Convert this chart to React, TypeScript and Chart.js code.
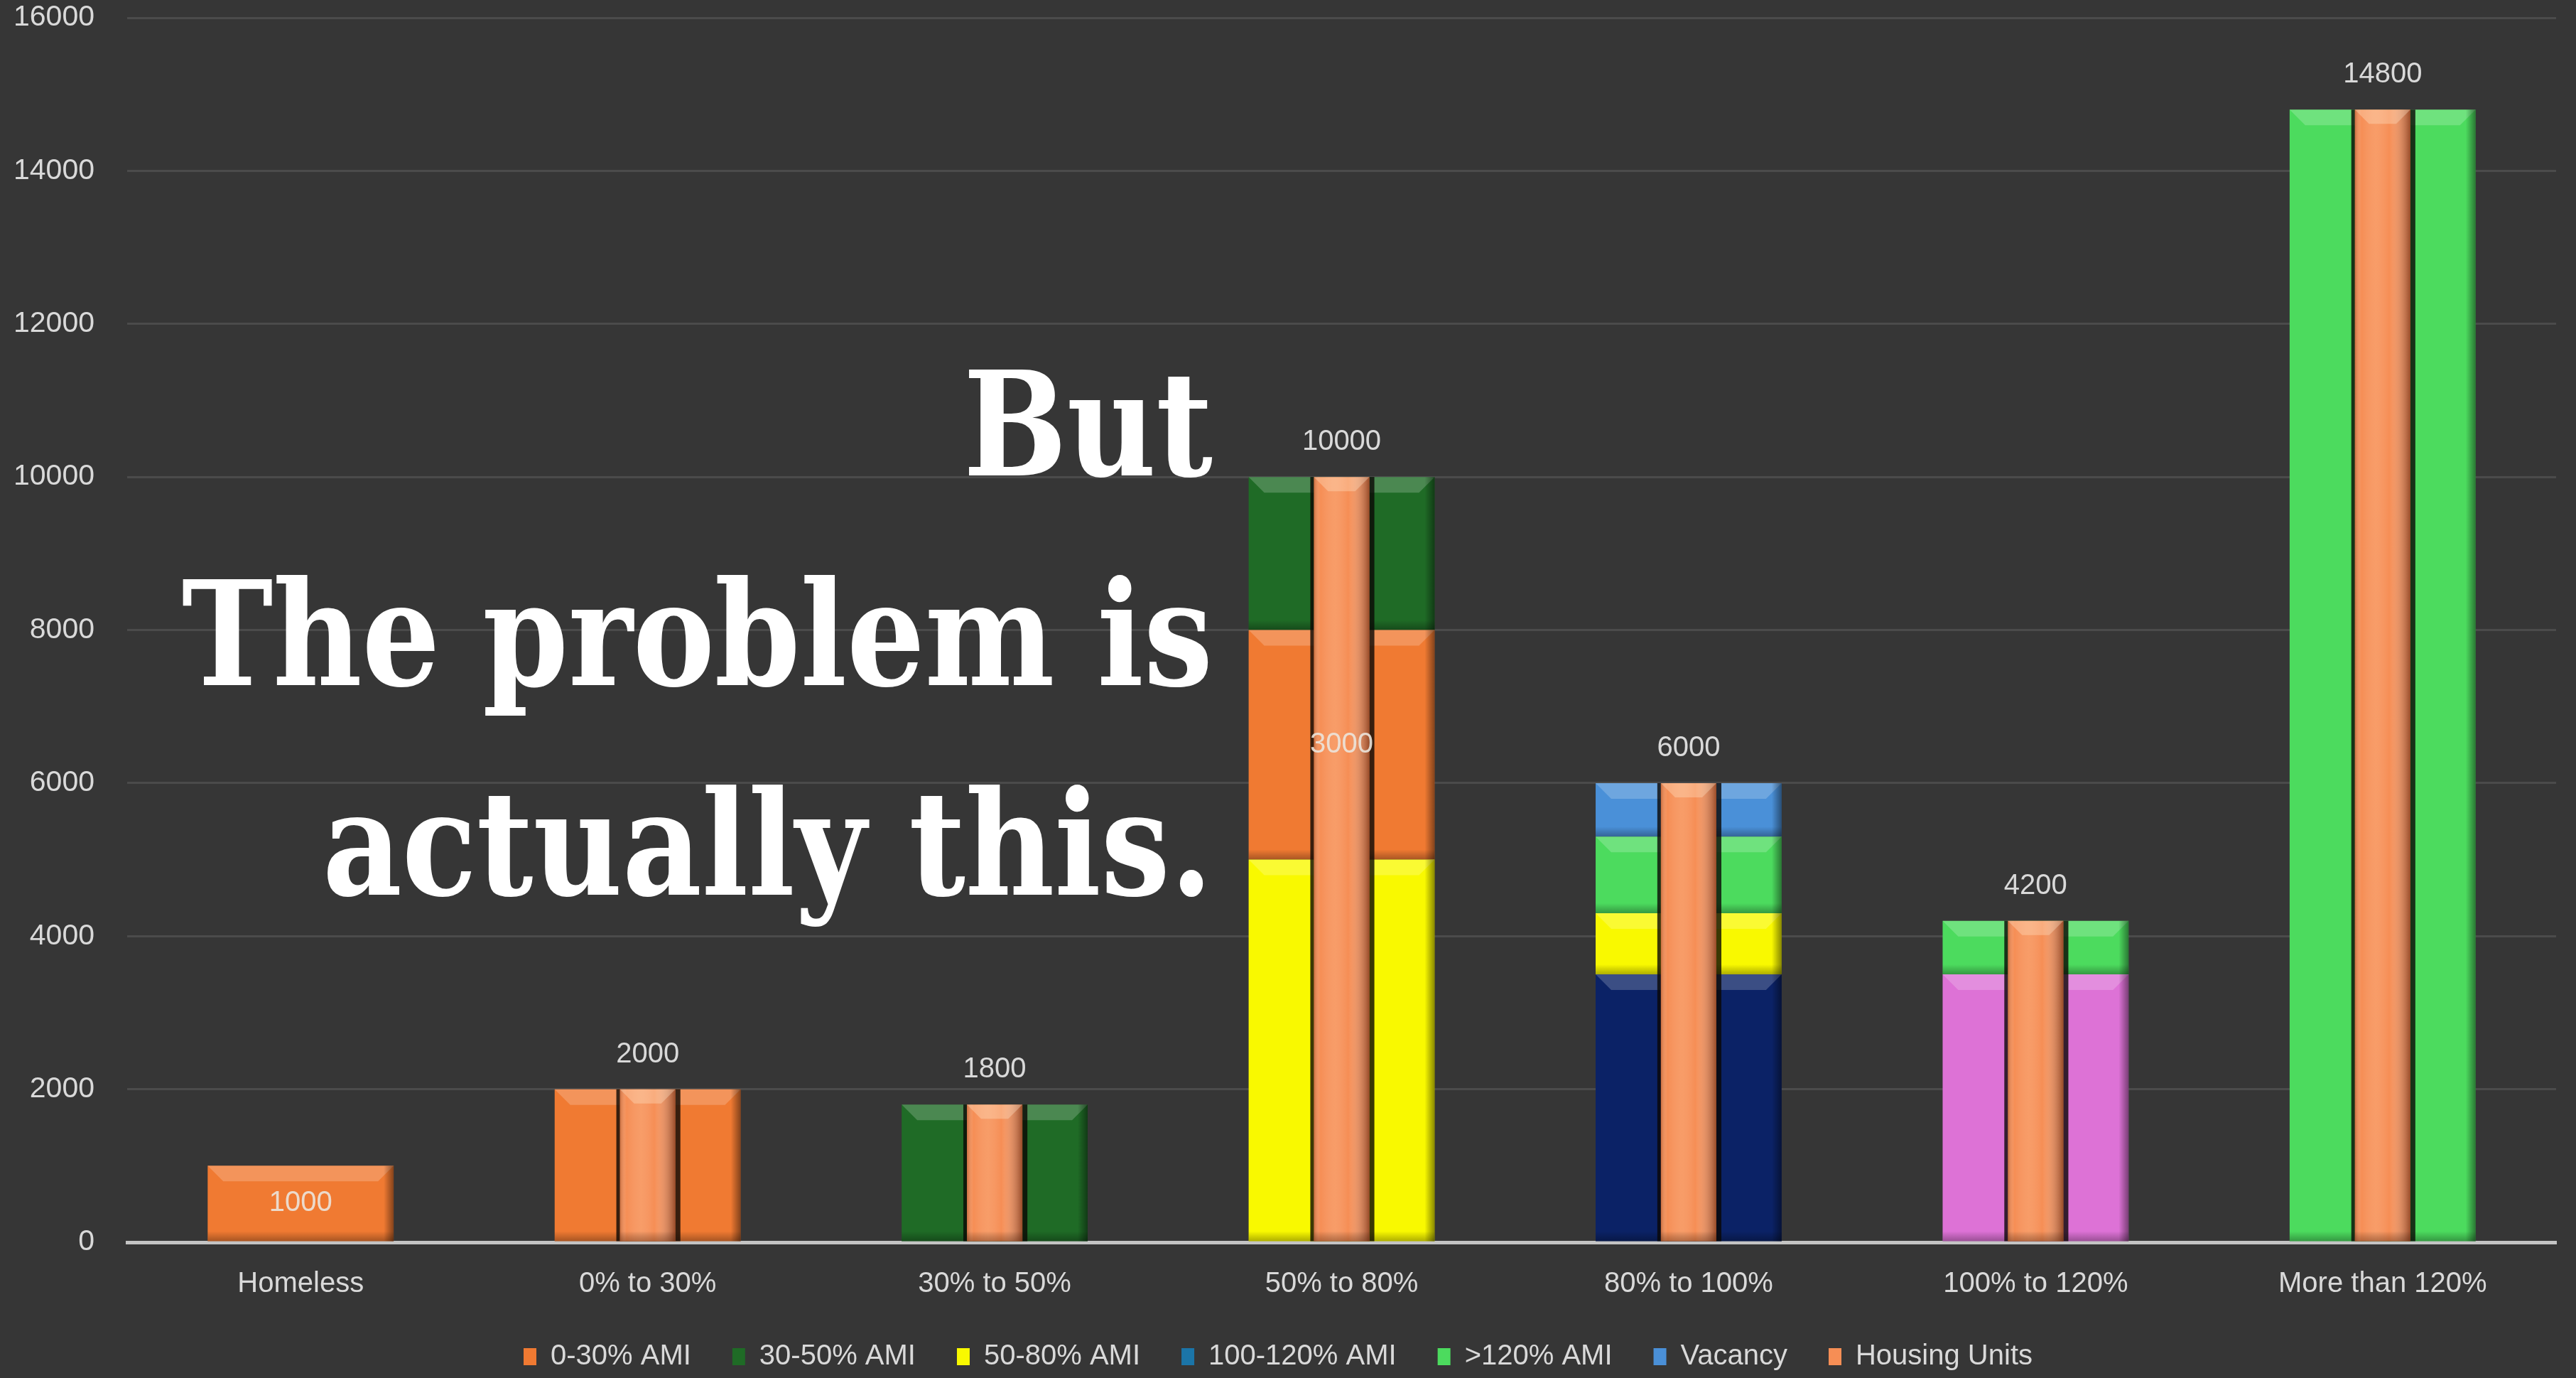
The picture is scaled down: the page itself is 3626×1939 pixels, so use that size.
import React, { useEffect, useRef } from 'react';
import { Chart, registerables } from 'chart.js';

Chart.register(...registerables);

// ---------- data ----------
const categories = ['Homeless', '0% to 30%', '30% to 50%', '50% to 80%', '80% to 100%', '100% to 120%', 'More than 120%'];
const ami0to30 = [1000, 2000, 0, 3000, 0, 0, 0];
const ami30to50 = [0, 0, 1800, 2000, 0, 0, 0];
const ami50to80 = [0, 0, 0, 5000, 800, 0, 0];
const ami100to120 = [0, 0, 0, 0, 3500, 3500, 0];
const ami120plus = [0, 0, 0, 0, 1000, 700, 14800];
const vacancy = [0, 0, 0, 0, 700, 0, 0];
const housingUnits = [0, 2000, 1800, 10000, 6000, 4200, 14800];
const ami0to30ShowLabel = [true, false, false, true, false, false, false];
const legendOrder = ['0-30% AMI', '30-50% AMI', '50-80% AMI', '100-120% AMI', '>120% AMI', 'Vacancy', 'Housing Units'];
const yMin = 0;
const yMax = 16000;
const yStep = 2000;

// ---------- styles ----------
const BG = '#363636';
const TEXT = '#D9D9D9';
const FONT = "'Liberation Sans', Arial, sans-serif";
const cOrange = '#F07A32';
const cDkGreen = '#1F6B26';
const cYellow = '#F9F900';
const cTeal = '#1B75A8';
const cNavy = '#0B2266';
const cPink = '#DD72D6';
const cGreen = '#4CDB5E';
const cVacancy = '#4A90D8';
const cHousing = '#F68E55';
const ami100Colors = categories.map((c) => (c === '80% to 100%' ? cNavy : c === '100% to 120%' ? cPink : cTeal));

const bevelPlugin = {
  id: 'bevel',
  beforeDatasetDraw(chart: any, args: any) {
    const ds = chart.data.datasets[args.index];
    if (ds.label !== 'Housing Units') return;
    const ctx = chart.ctx;
    ctx.save();
    args.meta.data.forEach((el: any) => {
      const { x, y, base, width } = el.getProps(['x', 'y', 'base', 'width'], true);
      const h = base - y;
      if (h < 1) return;
      ctx.fillStyle = 'rgba(10,8,5,0.8)';
      ctx.fillRect(x - width / 2 - 5, y, width + 12, h);
    });
    ctx.restore();
  },
  afterDatasetDraw(chart: any, args: any) {
    const ds = chart.data.datasets[args.index];
    const ctx = chart.ctx;
    const isHousing = ds.label === 'Housing Units';
    ctx.save();
    args.meta.data.forEach((el: any) => {
      const { x, y, base, width } = el.getProps(['x', 'y', 'base', 'width'], true);
      const h = base - y;
      if (h < 1) return;
      const left = x - width / 2;
      const right = x + width / 2;
      if (isHousing) {
        const gh = ctx.createLinearGradient(left, 0, right, 0);
        gh.addColorStop(0, 'rgba(120,50,20,0.35)');
        gh.addColorStop(0.12, 'rgba(255,255,255,0)');
        gh.addColorStop(0.38, 'rgba(255,215,180,0.2)');
        gh.addColorStop(0.62, 'rgba(255,255,255,0)');
        gh.addColorStop(1, 'rgba(90,30,10,0.6)');
        ctx.fillStyle = gh;
        ctx.fillRect(left, y, width, h);
        const b = Math.min(20, h / 2);
        ctx.fillStyle = 'rgba(255,230,200,0.35)';
        ctx.beginPath();
        ctx.moveTo(left, y);
        ctx.lineTo(right, y);
        ctx.lineTo(right - b, y + b);
        ctx.lineTo(left + b, y + b);
        ctx.closePath();
        ctx.fill();
        const gb = ctx.createLinearGradient(0, base - 14, 0, base);
        gb.addColorStop(0, 'rgba(0,0,0,0)');
        gb.addColorStop(1, 'rgba(60,20,0,0.35)');
        ctx.fillStyle = gb;
        ctx.fillRect(left, base - 14, width, 14);
      } else {
        const b = Math.min(22, h / 2);
        ctx.fillStyle = 'rgba(255,255,255,0.2)';
        ctx.beginPath();
        ctx.moveTo(left, y);
        ctx.lineTo(right, y);
        ctx.lineTo(right - b, y + b);
        ctx.lineTo(left + b, y + b);
        ctx.closePath();
        ctx.fill();
        const gb = ctx.createLinearGradient(0, base - 14, 0, base);
        gb.addColorStop(0, 'rgba(0,0,0,0)');
        gb.addColorStop(1, 'rgba(0,0,0,0.3)');
        ctx.fillStyle = gb;
        ctx.fillRect(left, base - 14, width, 14);
        const gr = ctx.createLinearGradient(right - 14, 0, right, 0);
        gr.addColorStop(0, 'rgba(0,0,0,0)');
        gr.addColorStop(1, 'rgba(0,0,0,0.45)');
        ctx.fillStyle = gr;
        ctx.fillRect(right - 14, y, 14, h);
      }
    });
    ctx.restore();
  },
};

const labelPlugin = {
  id: 'valueLabels',
  afterDatasetsDraw(chart: any) {
    const ctx = chart.ctx;
    ctx.save();
    ctx.font = `40px ${FONT}`;
    ctx.textAlign = 'center';
    ctx.textBaseline = 'middle';
    chart.data.datasets.forEach((ds: any, di: number) => {
      const meta = chart.getDatasetMeta(di);
      meta.data.forEach((el: any, i: number) => {
        const { x, y, base } = el.getProps(['x', 'y', 'base'], true);
        const v = ds.data[i];
        if (!v) return;
        if (ds.label === 'Housing Units') {
          ctx.fillStyle = TEXT;
          ctx.fillText(String(v), x, y - 49);
        } else if (ds.label === '0-30% AMI' && ami0to30ShowLabel[i]) {
          ctx.fillStyle = 'rgba(235,228,220,0.9)';
          ctx.fillText(String(v), x, (y + base) / 2);
        }
      });
    });
    ctx.restore();
  },
};

export default function App() {
  const canvasRef = useRef<HTMLCanvasElement | null>(null);

  useEffect(() => {
    if (!canvasRef.current) return;
    const outer = { grouped: false, categoryPercentage: 1, barPercentage: 0.536, stack: 'ami', borderWidth: 0 };
    const chart = new Chart(canvasRef.current, {
      type: 'bar',
      data: {
        labels: categories,
        datasets: [
          { label: '100-120% AMI', data: ami100to120, backgroundColor: ami100Colors, ...outer },
          { label: '50-80% AMI', data: ami50to80, backgroundColor: cYellow, ...outer },
          { label: '0-30% AMI', data: ami0to30, backgroundColor: cOrange, ...outer },
          { label: '30-50% AMI', data: ami30to50, backgroundColor: cDkGreen, ...outer },
          { label: '>120% AMI', data: ami120plus, backgroundColor: cGreen, ...outer },
          { label: 'Vacancy', data: vacancy, backgroundColor: cVacancy, ...outer },
          {
            label: 'Housing Units',
            data: housingUnits,
            backgroundColor: cHousing,
            grouped: false,
            categoryPercentage: 1,
            barPercentage: 0.16,
            stack: 'hu',
            order: -1,
            borderWidth: 0,
          },
        ] as any,
      },
      options: {
        animation: false,
        responsive: true,
        maintainAspectRatio: false,
        layout: { padding: { left: 0, right: 28, top: 25, bottom: 0 } },
        scales: {
          x: {
            stacked: true,
            grid: { display: false, drawTicks: false },
            border: { display: true, color: '#C4C4C4', width: 5 },
            ticks: { color: TEXT, font: { family: FONT, size: 40 }, padding: 35, maxRotation: 0, autoSkip: false },
            afterFit: (s: any) => { s.height = 83; s.paddingLeft = 0; s.paddingRight = 0; },
          },
          y: {
            stacked: true,
            min: yMin,
            max: yMax,
            ticks: {
              stepSize: yStep,
              color: TEXT,
              font: { family: FONT, size: 41 },
              padding: 46,
              callback: (v: any) => String(v),
            },
            grid: { color: '#4B4B4B', lineWidth: 3, drawTicks: false },
            border: { display: false },
            afterFit: (s: any) => { s.width = 179; s.paddingTop = 25; s.paddingBottom = 0; },
          },
        },
        plugins: {
          tooltip: { enabled: false },
          legend: {
            position: 'bottom',
            labels: {
              color: TEXT,
              font: { family: FONT, size: 40 },
              boxWidth: 18,
              boxHeight: 24,
              padding: 58,
              generateLabels: (ch: any) => {
                const items = Chart.defaults.plugins.legend.labels.generateLabels(ch);
                const legendColors: Record<string, string> = {
                  '0-30% AMI': cOrange,
                  '30-50% AMI': cDkGreen,
                  '50-80% AMI': cYellow,
                  '100-120% AMI': cTeal,
                  '>120% AMI': cGreen,
                  'Vacancy': cVacancy,
                  'Housing Units': cHousing,
                };
                return items.map((it: any) => ({
                  ...it,
                  fillStyle: legendColors[it.text],
                  strokeStyle: legendColors[it.text],
                  lineWidth: 0,
                  fontColor: TEXT,
                }));
              },
              sort: (a: any, b: any) => legendOrder.indexOf(a.text) - legendOrder.indexOf(b.text),
            },
          },
        },
      } as any,
      plugins: [bevelPlugin, labelPlugin],
    });
    return () => chart.destroy();
  }, []);

  return (
    <div style={{ position: 'fixed', left: 0, top: 0, width: '3626px', height: '1939px', background: BG, overflow: 'hidden' }}>
      <div style={{ position: 'absolute', left: 0, top: 0, width: '3626px', height: '1939px' }}>
        <canvas ref={canvasRef} />
      </div>
      <div
        style={{
          position: 'absolute',
          left: 0,
          top: '450px',
          width: '1707px',
          textAlign: 'right',
          color: '#FFFFFF',
          fontFamily: "'DejaVu Serif Condensed', 'DejaVu Serif', serif",
          fontStretch: 'condensed',
          fontWeight: 700,
          fontSize: '204px',
          lineHeight: '295px',
          pointerEvents: 'none',
          whiteSpace: 'nowrap',
          transform: 'scaleX(0.94)',
          transformOrigin: 'right top',
        }}
      >
        But
        <br />
        The problem is
        <br />
        actually this.
      </div>
    </div>
  );
}
